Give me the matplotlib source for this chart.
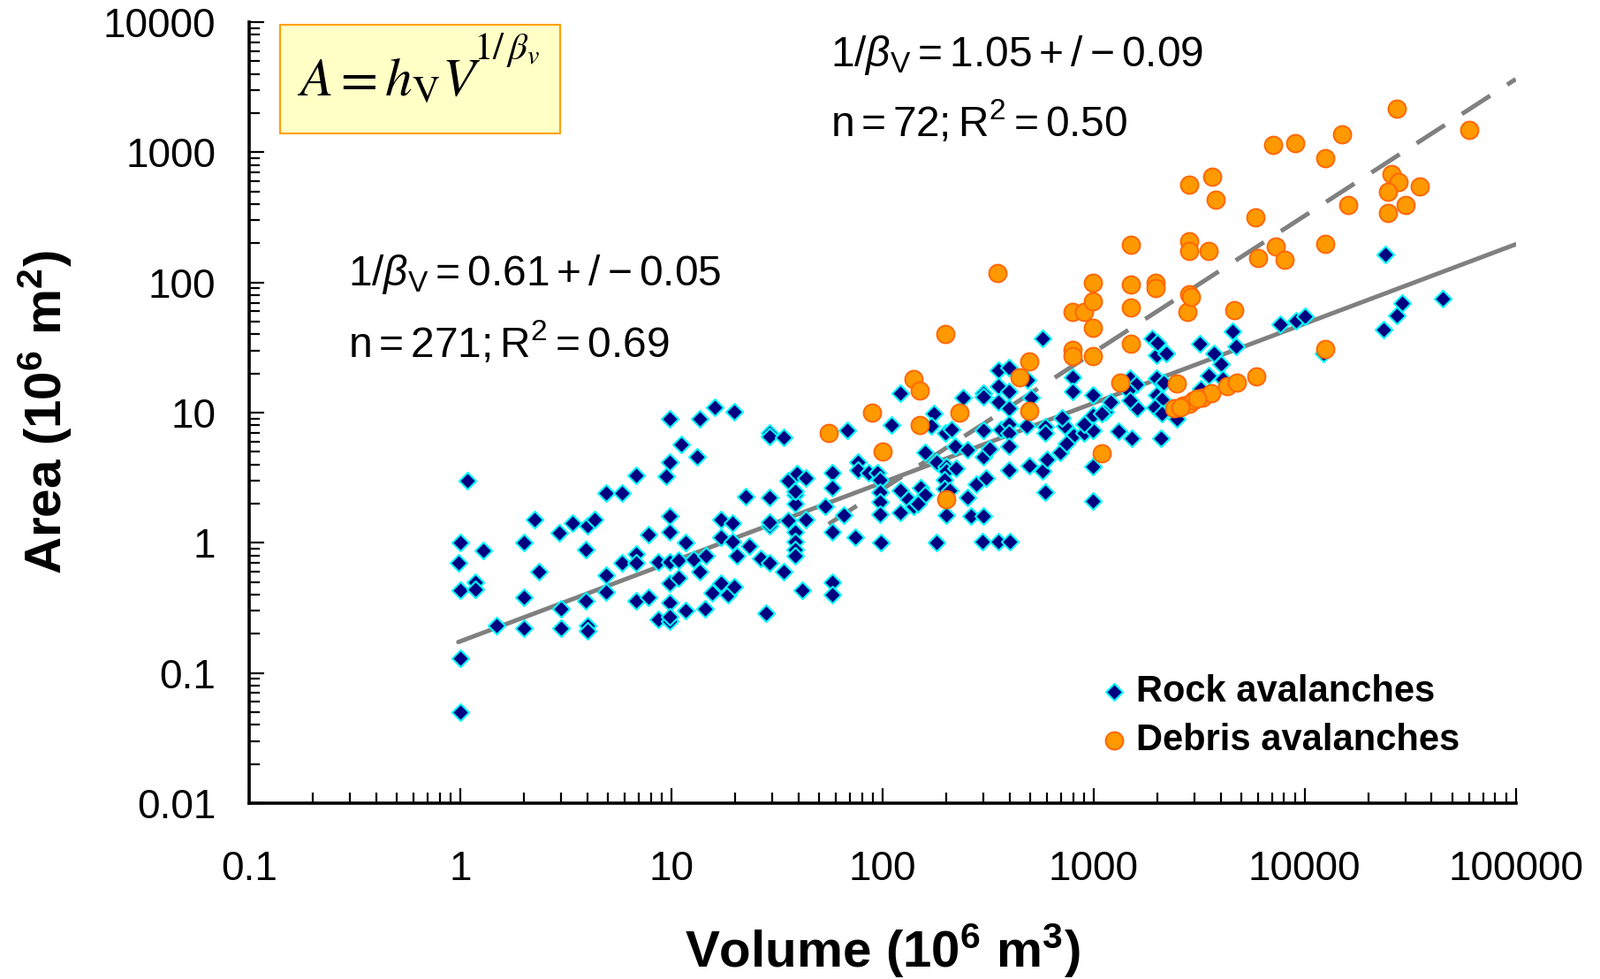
import numpy as np
import matplotlib.pyplot as plt
from matplotlib.patches import Rectangle
from matplotlib.ticker import FixedLocator, LogLocator, NullFormatter

plt.rcParams['font.family'] = ['Liberation Sans', 'DejaVu Sans']
plt.rcParams['mathtext.fontset'] = 'custom'
plt.rcParams['mathtext.rm'] = 'Liberation Sans'
plt.rcParams['mathtext.it'] = 'Liberation Sans:italic'
plt.rcParams['mathtext.bf'] = 'Liberation Sans:bold'

# rock avalanches (volume 10^6 m3, area 10^6 m2)
rock_vol = [
    1.08, 1.0, 0.98, 1.0, 1.0, 1.0, 1.28, 1.18, 1.18, 1.48,
    2.0, 2.0, 2.0, 2.25, 2.35, 2.95, 3.0, 3.0, 3.41, 4.0,
    4.34, 3.94, 3.94, 4.0, 4.0, 4.9, 5.84, 4.9, 4.9, 5.84,
    6.84, 6.84, 6.84, 6.84, 7.83, 7.83, 8.7, 8.7, 9.8, 9.8,
    9.44, 9.8, 9.8, 9.8, 9.8, 9.8, 9.8, 9.8, 11.1, 10.8,
    10.8, 11.7, 11.7, 12.7, 13.6, 13.3, 13.6, 14.6, 14.5, 16.1,
    19.8, 17.2, 19.5, 17.1, 19.5, 20.5, 23.3, 15.6, 17.2, 18.6,
    19.9, 28.2, 26.4, 29.1, 29.1, 29.1, 29.1, 33.9, 29.1, 33.9,
    35.8, 39.5, 43.4, 38.6, 38.6, 35.8, 38.6, 38.6, 38.6, 38.6,
    43.4, 41.6, 22.5, 29.1, 38.6,
    53.4, 57.9, 57.9, 65.8, 57.9, 74.1, 57.9, 57.9, 67.9, 76.4,
    76.4, 85.8, 95.0, 97.7, 97.7, 97.7, 97.7, 98.0, 121, 110,
    121, 121, 132, 140, 152, 159, 148, 159, 176, 171,
    198, 213, 181, 200, 200, 224, 197, 197, 209, 200,
    180, 220, 253, 240, 253, 262, 301, 279, 310, 301,
    323, 301, 301, 301, 354, 398, 355, 398, 354, 398,
    489, 505, 366, 398, 398, 398, 398, 298, 354, 401,
    481, 498, 575, 592, 592, 603, 592, 571, 696, 730,
    792, 792, 804, 743, 899, 990, 990, 990, 990, 990,
    1135, 1208, 1310, 1512, 1488, 1612, 1985, 1985, 2079, 1985,
    1890, 707, 899, 1097,
    24120, 45190, 29050, 27240, 23590, 7650, 9070, 10040, 12340, 4540,
    4730, 3190, 3720, 4030, 3520, 4100, 2000, 2220, 1590, 1463,
    2150, 2114, 1950, 2100, 2490, 1488, 3230,
]
rock_area = [
    3.0, 1.0, 0.70, 0.43, 0.13, 0.05, 0.87, 0.50, 0.44, 0.23,
    1.0, 0.38, 0.22, 1.50, 0.60, 1.19, 0.31, 0.22, 1.41, 1.35,
    1.50, 0.89, 0.36, 0.23, 0.21, 2.40, 2.40, 0.56, 0.42, 0.70,
    3.28, 0.82, 0.70, 0.36, 1.16, 0.38, 0.71, 0.26, 8.93, 4.15,
    3.23, 1.61, 1.22, 0.71, 0.49, 0.35, 0.25, 0.27, 5.67, 0.74,
    0.54, 1.0, 0.30, 0.75, 8.93, 4.6, 0.60, 0.80, 0.31, 11.0,
    10.2, 1.50, 1.41, 1.11, 1.02, 0.80, 0.95, 0.41, 0.49, 0.40,
    0.46, 0.29, 0.76, 0.70, 2.22, 6.98, 6.6, 6.47, 1.35, 0.60,
    3.0, 3.42, 3.13, 2.34, 2.0, 1.48, 1.22, 1.02, 0.89, 0.80,
    1.50, 0.43, 2.28, 1.43, 2.5,
    1.90, 3.46, 2.67, 1.63, 1.22, 1.10, 0.50, 0.40, 7.28, 4.15,
    3.64, 3.47, 3.47, 3.03, 2.46, 2.06, 1.67, 1.0, 14.1, 8.07,
    2.53, 1.71, 2.16, 1.90, 2.67, 2.34, 2.0, 4.97, 9.8, 7.95,
    6.98, 7.43, 4.15, 3.84, 3.55, 3.74, 3.03, 2.60, 2.53, 1.63,
    1.0, 5.52, 5.16, 13.1, 2.24, 1.61, 1.61, 2.81, 3.13, 4.6,
    5.25, 7.35, 14.1, 13.2, 21.1, 22.2, 16.1, 14.5, 12.1, 10.9,
    17.9, 13.1, 7.43, 8.17, 6.98, 5.52, 3.64, 1.02, 1.02, 1.02,
    7.95, 3.94, 3.55, 7.8, 6.98, 4.37, 2.46, 37.0, 4.97, 7.95,
    18.8, 14.5, 6.64, 5.82, 6.98, 13.7, 9.55, 7.35, 3.84, 2.1,
    10.1, 12.1, 7.16, 6.31, 18.3, 10.9, 18.3, 13.7, 6.31, 27.8,
    37.0, 9.08, 8.17, 9.8,
    163.6, 74.8, 69.9, 55.6, 43.7, 48.0, 51.1, 54.7, 28.5, 42.2,
    32.5, 33.7, 28.5, 23.8, 19.3, 18.0, 34.3, 28.5, 16.5, 14.9,
    17.1, 12.7, 11.0, 9.8, 8.9, 12.4, 15.2,
]

# debris avalanches
debris_vol = [
    55.6, 89.6, 100, 140, 150, 150, 198, 200, 231, 350,
    448, 498, 498, 796, 899, 990, 990, 990, 796, 796,
    990, 1097, 1337, 1498, 1498, 1498, 1498, 1974, 1974, 2840,
    2840, 2840, 2830, 2790, 3520, 3660, 3810, 4620, 5830, 6010,
    7290, 8060, 7110, 8990, 12520, 12520, 15060, 16070, 12520, 27240,
    60220, 25700, 27940, 24900, 35260, 29980, 24900, 2490, 2410, 2650,
    2830, 2970, 3270, 3630, 4300, 4800, 5880, 2900, 2580, 3110,
]
debris_area = [
    7.0, 10.0, 5.0, 18.0, 14.8, 8.1, 40, 2.16, 10.0, 119,
    18.8, 24.6, 10.3, 59.7, 59.7, 100, 72, 45, 30.4, 27.1,
    27.1, 4.85, 17.0, 196, 96, 64.6, 33.7, 100, 90, 562,
    207, 174, 81, 59.7, 174, 650, 435, 61.6, 317, 153,
    188, 149, 1136, 1183, 898, 198, 1384, 396, 30.8, 2158,
    1483, 678, 594, 496, 550, 396, 344, 16.8, 10.8, 11.3,
    11.7, 12.4, 13.1, 14.0, 15.9, 17.1, 19.1, 78, 11.0, 12.8,
]

# power-law trend lines A = h * V^(1/beta)
rock_h, rock_exp = 0.175, 0.61
debris_h, debris_exp = 0.0205, 1.05
fit_vmax = 100000

x_ticks = [0.1, 1, 10, 100, 1000, 10000, 100000]
x_labels = ['0.1', '1', '10', '100', '1000', '10000', '100000']
y_ticks = [0.01, 0.1, 1, 10, 100, 1000, 10000]
y_labels = ['0.01', '0.1', '1', '10', '100', '1000', '10000']

fig = plt.figure(figsize=(18.11, 11.08), dpi=100)
ax = fig.add_axes([0.1557, 0.1796, 0.7916, 0.7978])

h_rock = ax.scatter(rock_vol, rock_area, marker='D', s=95, facecolor='#000080',
                    edgecolor='#00FFFF', linewidths=1.5, zorder=3, label='Rock avalanches')
h_deb = ax.scatter(debris_vol, debris_area, marker='o', s=205, facecolor='#FF9900',
                   edgecolor='#FF6600', linewidths=1.4, zorder=4, label='Debris avalanches')

# trend lines (drawn under the markers)
v1 = np.logspace(np.log10(min(rock_vol)), np.log10(fit_vmax), 60)
ax.plot(v1, rock_h * v1 ** rock_exp, color='#808080', lw=3.6, zorder=2, solid_capstyle='round')
v2 = np.logspace(np.log10(min(debris_vol)), np.log10(fit_vmax), 60)
ax.plot(v2, debris_h * v2 ** debris_exp, color='#808080', lw=3.6, zorder=2,
        dashes=(7.6, 4.6), dash_capstyle='butt')

ax.set_xscale('log')
ax.set_yscale('log')
ax.set_xlim(0.1, 100000)
ax.set_ylim(0.01, 10000)
ax.xaxis.set_major_locator(FixedLocator(x_ticks))
ax.yaxis.set_major_locator(FixedLocator(y_ticks))
ax.set_xticklabels(x_labels)
ax.set_yticklabels(y_labels)
ax.xaxis.set_minor_locator(LogLocator(base=10, subs=np.arange(2, 10), numticks=30))
ax.yaxis.set_minor_locator(LogLocator(base=10, subs=np.arange(2, 10), numticks=30))
ax.xaxis.set_minor_formatter(NullFormatter())
ax.yaxis.set_minor_formatter(NullFormatter())

ax.tick_params(which='major', direction='in', length=12, width=1.6, labelsize=33)
ax.tick_params(which='minor', direction='in', length=8.5, width=1.6)
ax.tick_params(axis='x', which='major', pad=38)
ax.tick_params(axis='y', which='major', pad=27)
for sp in ['top', 'right']:
    ax.spines[sp].set_visible(False)
for sp in ['left', 'bottom']:
    ax.spines[sp].set_linewidth(2.6)

ax.set_xlabel(r'Volume (10$^{\mathbf{6}}$ m$^{\mathbf{3}}$)', fontsize=42, fontweight='bold')
ax.set_ylabel(r'Area (10$^{\mathbf{6}}$ m$^{\mathbf{2}}$)', fontsize=42, fontweight='bold')
ax.xaxis.set_label_coords(0.5, -0.152)
ax.yaxis.set_label_coords(-0.138, 0.5)

# formula box
ax.add_patch(Rectangle((0.0244, 0.857), 0.221, 0.140, transform=ax.transAxes,
                       facecolor='#FFFFC6', edgecolor='#FFA000', lw=1.5, zorder=6))
ax.text(0.0377, 0.906, r'$A = h_{\mathrm{V}}V$', transform=ax.transAxes,
        fontsize=44, math_fontfamily='stix', va='baseline', ha='left', zorder=7)
ax.text(0.177, 0.9525, r'$1/\,\beta_{v}$', transform=ax.transAxes,
        fontsize=31, math_fontfamily='stix', va='baseline', ha='left', zorder=7)

# fit annotations
ax.text(0.078, 0.663, r'$1/\beta_{\mathrm{V}} = 0.61+/-0.05$', transform=ax.transAxes,
        fontsize=34.5, va='baseline', ha='left')
ax.text(0.078, 0.571, r'$\mathrm{n} = 271;\mathrm{R}^{2} = 0.69$', transform=ax.transAxes,
        fontsize=34.5, va='baseline', ha='left')
ax.text(0.459, 0.943, r'$1/\beta_{\mathrm{V}} = 1.05+/-0.09$', transform=ax.transAxes,
        fontsize=34.5, va='baseline', ha='left')
ax.text(0.459, 0.854, r'$\mathrm{n} = 72;\mathrm{R}^{2} = 0.50$', transform=ax.transAxes,
        fontsize=34.5, va='baseline', ha='left')

ax.legend(handles=[h_rock, h_deb], loc='lower left', bbox_to_anchor=(0.671, 0.058),
          frameon=False, prop={'weight': 'bold', 'size': 30}, handlelength=0.8,
          handletextpad=0.2, labelspacing=0.35, borderpad=0, borderaxespad=0,
          scatterpoints=1)

fig.savefig('out.png', dpi=100)
